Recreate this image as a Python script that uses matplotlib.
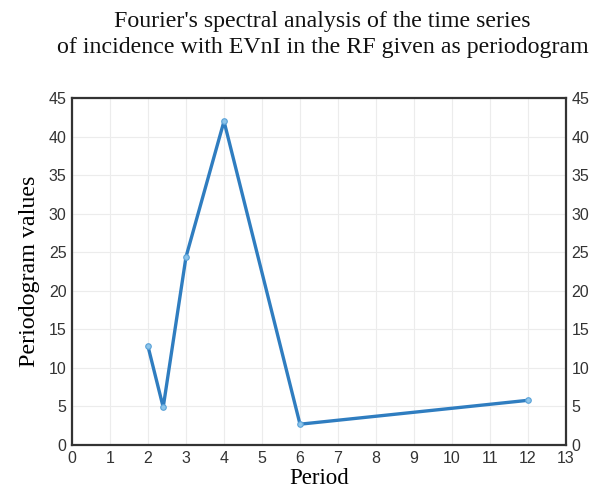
import matplotlib.pyplot as plt

# Data
period = [2, 2.4, 3, 4, 6, 12]
values = [12.8, 4.9, 24.4, 42.0, 2.7, 5.8]
xticks = list(range(0, 14))
yticks = list(range(0, 50, 5))

title = "Fourier's spectral analysis of the time series\nof incidence with EVnI in the RF given as periodogram"

if __name__ == '__main__':
    fig = plt.figure(figsize=(5.97, 4.90), dpi=100)
    ax = fig.add_axes([0.1206, 0.0918, 0.8275, 0.708])

    ax.plot(period, values, color='#2f7dc0', linewidth=2.4, marker='o',
            markersize=4, markerfacecolor='#8cc4ea', markeredgecolor='#5aa2d8',
            markeredgewidth=0.8)

    ax.set_xlim(0, 13)
    ax.set_ylim(0, 45)
    ax.set_xticks(xticks)
    ax.set_yticks(yticks)
    ax.grid(True, color='#ececec', linewidth=0.8)
    ax.set_axisbelow(True)

    ax.tick_params(length=0, labelsize=11.5, labelcolor='#333333', pad=4,
                   right=True, labelright=True)
    for lab in ax.get_xticklabels() + ax.get_yticklabels():
        lab.set_fontfamily('Liberation Sans')
    for s in ax.spines.values():
        s.set_color('#333333')
        s.set_linewidth(1.6)

    ax.set_xlabel('Period', family='Liberation Serif', fontsize=16.5, labelpad=2)
    ax.set_ylabel('Periodogram values', family='Liberation Serif', fontsize=17.3, labelpad=6)
    fig.text(0.54, 0.978, title, family='Liberation Serif', fontsize=17.2,
             ha='center', va='top', color='#111111', linespacing=1.33)

    fig.savefig('out.png', dpi=100)
